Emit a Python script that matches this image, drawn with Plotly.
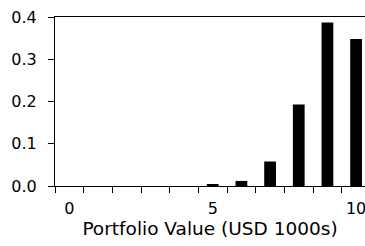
import plotly.graph_objects as go

categories = ["0", "1", "2", "3", "4", "5", "6", "7", "8", "9", "10"]
probabilities = [0, 0, 0, 0, 0, 0.003, 0.012, 0.058, 0.193, 0.387, 0.348]
x_tick_labels = ["0", "", "", "", "", "5", "", "", "", "", "10"]
y_tick_values = [0.0, 0.1, 0.2, 0.3, 0.4]
y_tick_labels = ["0.0", "0.1", "0.2", "0.3", "0.4"]
x_title = "Portfolio Value (USD 1000s)"

font_family = "DejaVu Sans, Liberation Sans, Arial, sans-serif"

fig = go.Figure(
    go.Bar(x=categories, y=probabilities, marker=dict(color="black", line=dict(width=0)), width=0.41)
)

fig.update_layout(
    width=365, height=246,
    margin=dict(l=55, r=0, t=17, b=60, autoexpand=False),
    paper_bgcolor="white", plot_bgcolor="white",
    showlegend=False,
    font=dict(family=font_family, size=16, color="black"),
)

fig.update_xaxes(
    type="category",
    categoryorder="array", categoryarray=categories,
    tickmode="array", tickvals=categories, ticktext=x_tick_labels,
    range=[-0.5, 10.31],
    tickson="boundaries",
    ticks="outside", ticklen=6, tickwidth=1, tickcolor="black",
    ticklabelstandoff=8,
    ticklabeloverflow="allow",
    showline=True, linecolor="black", linewidth=1, mirror=True,
    showgrid=False, zeroline=False,
    automargin=False,
    tickfont=dict(family=font_family, size=16, color="black"),
    title=dict(text=x_title, font=dict(family=font_family, size=18.5, color="black"), standoff=4),
)

fig.update_yaxes(
    range=[0, 0.4],
    tickmode="array", tickvals=y_tick_values, ticktext=y_tick_labels,
    ticks="outside", ticklen=6, tickwidth=1, tickcolor="black",
    ticklabelstandoff=8,
    ticklabeloverflow="allow",
    showline=True, linecolor="black", linewidth=1,
    showgrid=False, zeroline=False,
    automargin=False,
    tickfont=dict(family=font_family, size=16, color="black"),
)

fig.write_html(
    "out.html",
    config={"displayModeBar": False},
    post_script="document.body.style.margin='0';document.body.style.overflow='hidden';",
)
